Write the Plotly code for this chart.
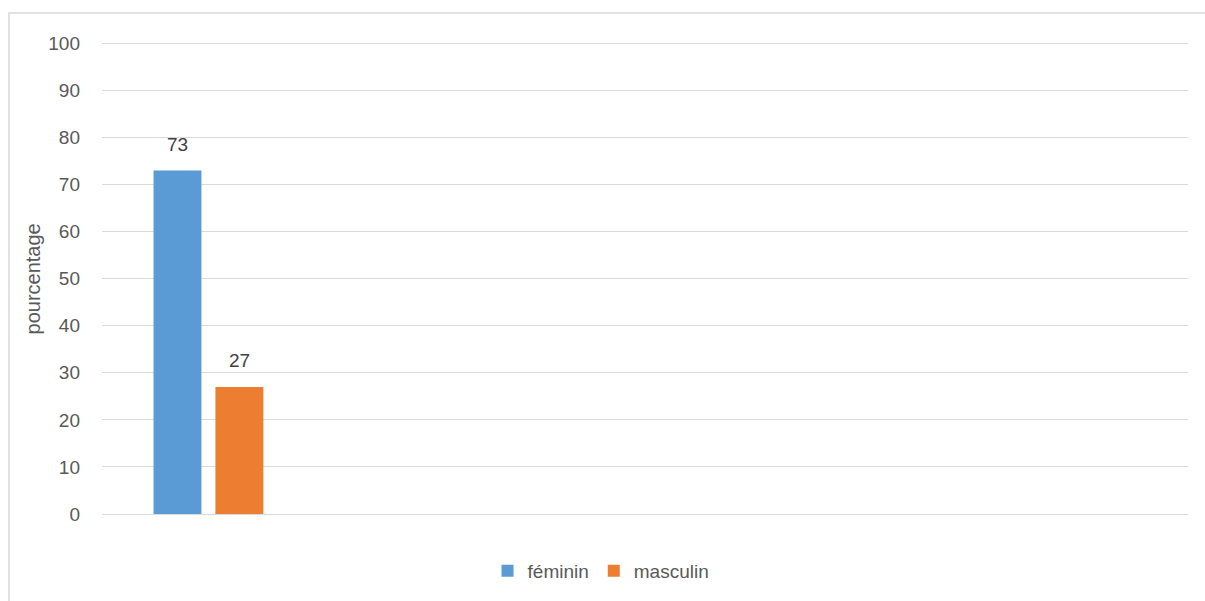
import plotly.graph_objects as go

categories = ["", " ", "  ", "   ", "    "]
series_names = ["féminin", "masculin"]
feminin = [73, None, None, None, None]
masculin = [27, None, None, None, None]
colors = ["#5B9BD5", "#ED7D31"]
y_ticks = [0, 10, 20, 30, 40, 50, 60, 70, 80, 90, 100]
y_title = "pourcentage"

FONT = "Liberation Sans, Arial, sans-serif"
fig = go.Figure()
for name, vals, col in zip(series_names, [feminin, masculin], colors):
    fig.add_trace(go.Bar(x=list(range(len(categories))), y=vals, name=name,
                         marker=dict(color=col, line=dict(width=0))))

# data labels as annotations above bars
offsets = [-0.5, 0.5]
for vals, off in zip([feminin, masculin], offsets):
    for i, v in enumerate(vals):
        if v is not None:
            fig.add_annotation(x=i, y=v, text=str(v), showarrow=False,
                               xshift=off * 62, yshift=26,
                               font=dict(family=FONT, size=19, color="#404040"))

PLOT_H = 601 - 34 - 86
PLOT_W = 1205 - 102 - 17
fig.add_annotation(xref="paper", yref="paper", x=(33 - 102) / PLOT_W, y=(515 - 280) / PLOT_H,
                   text=y_title, textangle=-90, showarrow=False,
                   xanchor="center", yanchor="middle",
                   font=dict(family=FONT, size=20, color="#595959"))

fig.update_layout(
    width=1205, height=601,
    margin=dict(l=102, r=17, t=34, b=86),
    paper_bgcolor="white", plot_bgcolor="white",
    barmode="group", bargap=0.43, bargroupgap=0.226,
    font=dict(family=FONT, size=19, color="#595959"),
    showlegend=True,
    legend=dict(orientation="h", x=0.355, xanchor="left", y=-56 / PLOT_H, yanchor="middle",
                font=dict(family=FONT, size=19, color="#595959"),
                itemwidth=30, tracegroupgap=0),
    xaxis=dict(range=[-0.49, 4.51], tickvals=list(range(len(categories))),
               ticktext=categories, showgrid=False, zeroline=False,
               showline=False, fixedrange=True),
    yaxis=dict(range=[0, 102], tickvals=y_ticks, showgrid=True,
               gridcolor="#d9d9d9", gridwidth=1, zeroline=True,
               zerolinecolor="#d9d9d9", zerolinewidth=1, showline=False,
               ticks="", ticklen=0, ticklabelstandoff=21,
               tickfont=dict(size=19, color="#595959")),
    shapes=[dict(type="rect", xref="paper", yref="paper",
                 x0=(9 - 102) / PLOT_W, x1=1.2, y0=-0.4, y1=(515 - 13) / PLOT_H,
                 line=dict(color="#d9d9d9", width=1.5), layer="below")],
)
fig.write_html("out.html", config={"displayModeBar": False},
               post_script="document.body.style.margin='0';")
